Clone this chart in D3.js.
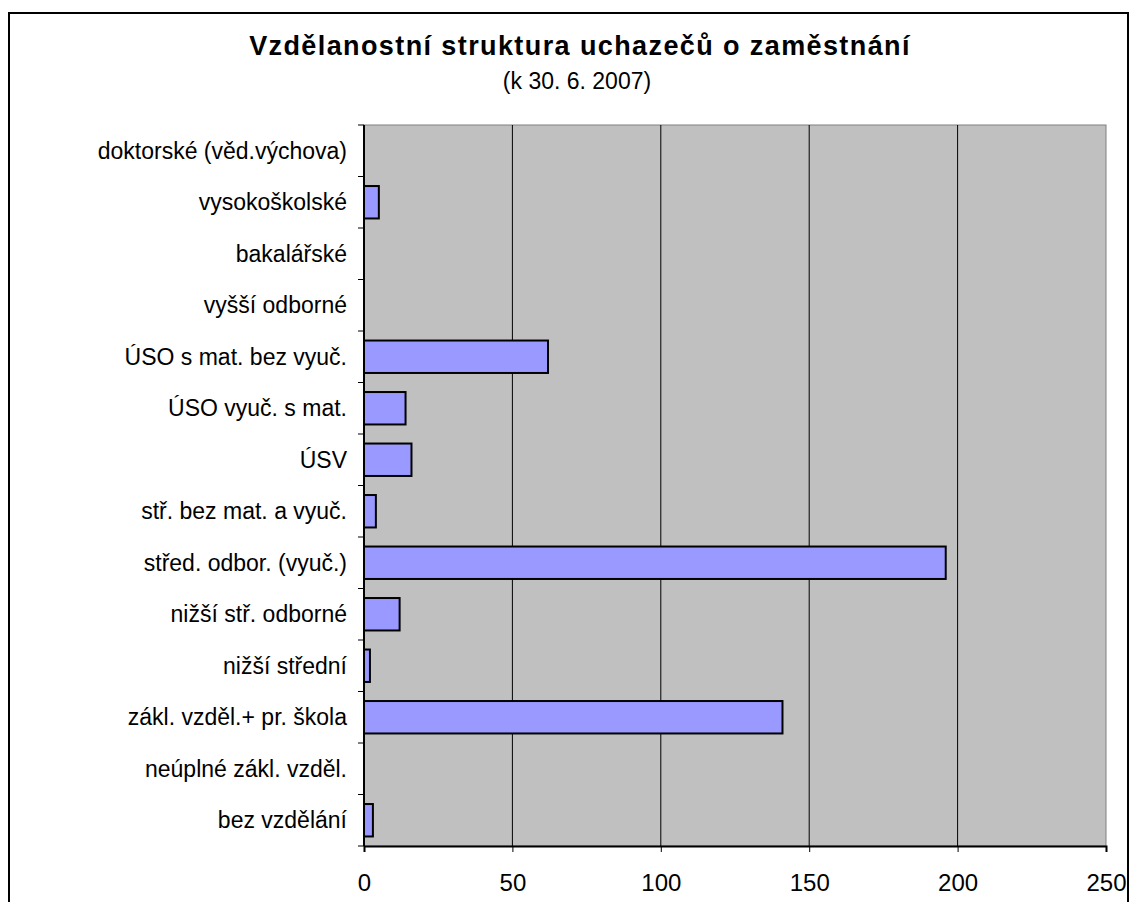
<!DOCTYPE html>
<html>
<head>
<meta charset="utf-8">
<script src="https://cdn.jsdelivr.net/npm/d3@7"></script>
<style>
  body { margin: 0; background: #fff; }
  svg { font-family: "Liberation Sans", Arial, sans-serif; }
</style>
</head>
<body>
<div id="chart"></div>
<script>
const width = 1130, height = 902;
const margin = { top: 125, right: 24, bottom: 56, left: 364 };

// categories from top to bottom
const categories = [
  "doktorské (věd.výchova)",
  "vysokoškolské",
  "bakalářské",
  "vyšší odborné",
  "ÚSO s mat. bez vyuč.",
  "ÚSO vyuč. s mat.",
  "ÚSV",
  "stř. bez mat. a vyuč.",
  "střed. odbor. (vyuč.)",
  "nižší stř. odborné",
  "nižší střední",
  "zákl. vzděl.+ pr. škola",
  "neúplné zákl. vzděl.",
  "bez vzdělání"
];
const values = [0, 5, 0, 0, 62, 14, 16, 4, 196, 12, 2, 141, 0, 3];
const xTicks = [0, 50, 100, 150, 200, 250];

const plotW = width - margin.left - margin.right;
const plotH = height - margin.top - margin.bottom;

const svg = d3.select("#chart").append("svg")
  .attr("width", width)
  .attr("height", height);

// outer frame
svg.append("rect")
  .attr("x", 9).attr("y", 13)
  .attr("width", 1119).attr("height", 900)
  .attr("fill", "none").attr("stroke", "#000").attr("stroke-width", 2);

// title
svg.append("text")
  .attr("x", 580).attr("y", 55)
  .attr("text-anchor", "middle")
  .style("font-size", "27px").style("font-weight", "bold")
  .style("letter-spacing", "1.4px")
  .text("Vzdělanostní struktura uchazečů o zaměstnání");

svg.append("text")
  .attr("x", 577).attr("y", 89)
  .attr("text-anchor", "middle")
  .style("font-size", "23px")
  .text("(k 30. 6. 2007)");

const g = svg.append("g")
  .attr("transform", "translate(" + margin.left + "," + margin.top + ")");

const x = d3.scaleLinear().domain([0, 250]).range([0, plotW]);
const y = d3.scaleBand().domain(categories).range([0, plotH]).paddingInner(0.37).paddingOuter(0.185);

// plot background
g.append("rect")
  .attr("width", plotW).attr("height", plotH)
  .attr("fill", "#c0c0c0")
  .attr("stroke", "#808080").attr("stroke-width", 1);

// grid lines
g.selectAll(".grid")
  .data(xTicks.slice(1, -1))
  .enter().append("line")
  .attr("x1", d => x(d)).attr("x2", d => x(d))
  .attr("y1", 0).attr("y2", plotH)
  .attr("stroke", "#000").attr("stroke-width", 1);

// bars
g.selectAll(".bar")
  .data(values)
  .enter().append("rect")
  .attr("x", x(0))
  .attr("y", (d, i) => y(categories[i]))
  .attr("width", d => x(d) - x(0))
  .attr("height", y.bandwidth())
  .attr("fill", "#9999ff")
  .attr("stroke", "#000").attr("stroke-width", 2)
  .style("display", d => d > 0 ? null : "none");

// y axis: line and ticks at band boundaries
g.append("line")
  .attr("x1", 0).attr("x2", 0).attr("y1", 0).attr("y2", plotH)
  .attr("stroke", "#000").attr("stroke-width", 2);

g.selectAll(".ytick")
  .data(d3.range(categories.length + 1))
  .enter().append("line")
  .attr("x1", -6).attr("x2", 0)
  .attr("y1", d => d * plotH / categories.length)
  .attr("y2", d => d * plotH / categories.length)
  .attr("stroke", "#000").attr("stroke-width", 1);

g.selectAll(".ylabel")
  .data(categories)
  .enter().append("text")
  .attr("x", -17)
  .attr("y", d => y(d) + y.bandwidth() / 2)
  .attr("dy", "0.35em")
  .attr("text-anchor", "end")
  .style("font-size", "23px")
  .text(d => d);

// x axis
const xAxis = g.append("g")
  .attr("transform", "translate(0," + plotH + ")")
  .call(d3.axisBottom(x).tickValues(xTicks).tickSize(6).tickPadding(22));
xAxis.select(".domain").attr("stroke", "#000").attr("stroke-width", 2);
xAxis.selectAll("text")
  .style("font-size", "24px")
  .style("font-family", "'Liberation Sans', Arial, sans-serif")
  .attr("fill", "#000");
</script>
</body>
</html>
